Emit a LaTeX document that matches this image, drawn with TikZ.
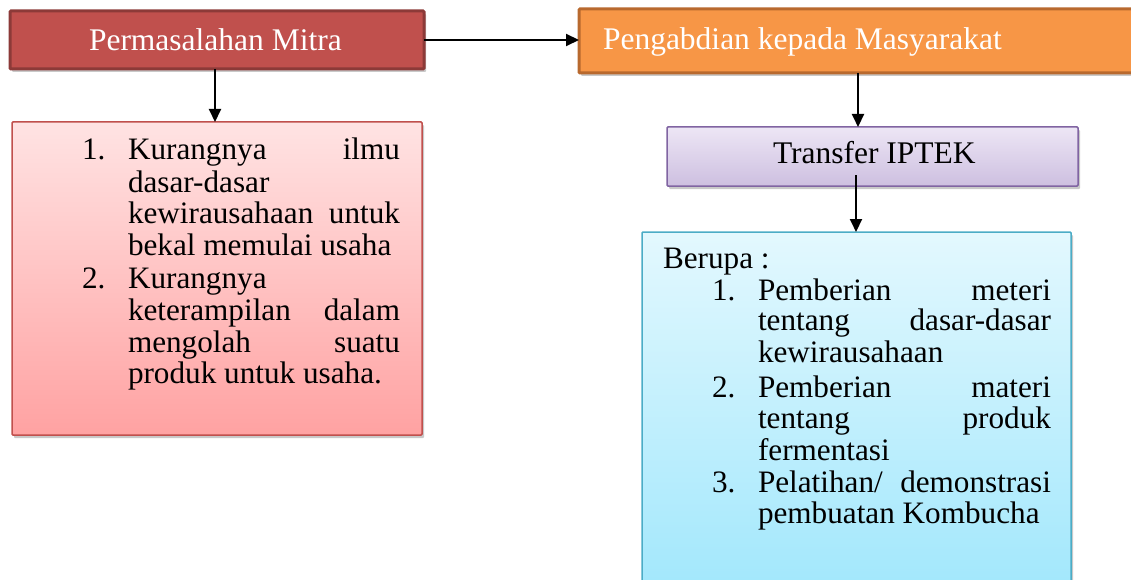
\documentclass[tikz,border=0pt]{standalone}
\usepackage{fontspec}
\setmainfont{Liberation Serif}
\usetikzlibrary{arrows.meta,shadows}
\definecolor{redF}{HTML}{C0504D}
\definecolor{redD}{HTML}{8C3A38}
\definecolor{orgF}{HTML}{F79646}
\definecolor{orgD}{HTML}{B8692E}
\definecolor{purD}{HTML}{8064A2}
\definecolor{purT}{HTML}{EDE6F5}
\definecolor{purB}{HTML}{CDBFE0}
\definecolor{cyaD}{HTML}{4BACC6}
\definecolor{cyaT}{HTML}{E3F8FE}
\definecolor{cyaB}{HTML}{A0E7FC}
\definecolor{pnkT}{HTML}{FFE3E3}
\definecolor{pnkB}{HTML}{FFA2A2}
\tikzset{
  box/.style={rectangle, inner sep=0pt, outer sep=0pt, rounded corners=1pt,
    drop shadow={shadow xshift=2pt, shadow yshift=-3pt, opacity=0.3, fill=black!70}},
  arr/.style={-{Triangle[width=12pt,length=13pt]}, line width=2pt, black},
  txt/.style={anchor=base west, inner sep=0pt, outer sep=0pt, font=\fontsize{31.2}{36}\selectfont},
  ttl/.style={anchor=base west, inner sep=0pt, outer sep=0pt, font=\fontsize{31.5}{36}\selectfont},
}
\begin{document}
\begin{tikzpicture}[x=1pt,y=-1pt]
\useasboundingbox (0,0) rectangle (1131,580);
% boxes
\node[box, fill=redF, draw=redD, line width=3pt, minimum width=414pt, minimum height=58pt] (A) at (217,40) {};
\node[box, fill=orgF, draw=orgD, line width=3pt, minimum width=565pt, minimum height=64pt] (B) at (861.5,41) {};
\node[box, top color=purT, bottom color=purB, draw=purD, line width=1.5pt, minimum width=411pt, minimum height=59pt] (C) at (872.5,156.5) {};
\node[box, top color=cyaT, bottom color=cyaB, draw=cyaD, line width=1.5pt, minimum width=429pt, minimum height=369pt] (D) at (856.5,416.5) {};
\node[box, top color=pnkT, bottom color=pnkB, draw=redF, line width=1.5pt, minimum width=410pt, minimum height=313pt] (E) at (217,278.5) {};
% titles
\node[ttl, text=white] (At) at (89,51) {Permasalahan Mitra};
\node[ttl, text=white] (Bt) at (603,50) {Pengabdian kepada Masyarakat};
\node[ttl] (Ct) at (773,164) {Transfer IPTEK};
% arrows
\draw[arr] (A.east) -- (B.west |- A.east);
\draw[arr] ([xshift=-2pt]A.south) -- ([xshift=-2pt]E.north);
\draw[arr] ([xshift=-3.5pt]B.south) -- ([xshift=-3.5pt]B.south |- C.north);
\draw[arr] ([xshift=-16.5pt,yshift=10.5pt]C.south) -- ([xshift=-16.5pt]C.south |- D.north);
% list in E
\node[txt] (en1) at (82,160) {1.};
\node[txt] (el1) at (128,160) {\hbox to 272pt{Kurangnya\hfill ilmu}};
\node[txt] (el2) at (128,192) {dasar-dasar};
\node[txt] (el3) at (128,223) {\hbox to 272pt{kewirausahaan\hfill untuk}};
\node[txt] (el4) at (128,255) {bekal memulai usaha};
\node[txt] (en2) at (82,288) {2.};
\node[txt] (el5) at (128,288) {Kurangnya};
\node[txt] (el6) at (128,320) {\hbox to 272pt{keterampilan\hfill dalam}};
\node[txt] (el7) at (128,352) {\hbox to 272pt{mengolah\hfill suatu}};
\node[txt] (el8) at (128,383) {produk untuk usaha.};
% list in D
\node[txt] (dh) at (663,268) {Berupa :};
\node[txt] (dn1) at (712,300) {1.};
\node[txt] (dl1) at (758,300) {\hbox to 293pt{Pemberian\hfill meteri}};
\node[txt] (dl2) at (758,330) {\hbox to 293pt{tentang\hfill dasar-dasar}};
\node[txt] (dl3) at (758,362) {kewirausahaan};
\node[txt] (dn2) at (712,397) {2.};
\node[txt] (dl4) at (758,397) {\hbox to 293pt{Pemberian\hfill materi}};
\node[txt] (dl5) at (758,428) {\hbox to 293pt{tentang\hfill produk}};
\node[txt] (dl6) at (758,460) {fermentasi};
\node[txt] (dn3) at (712,492) {3.};
\node[txt] (dl7) at (758,492) {\hbox to 293pt{Pelatihan/\hfill demonstrasi}};
\node[txt] (dl8) at (758,523) {pembuatan Kombucha};
\end{tikzpicture}
\end{document}
